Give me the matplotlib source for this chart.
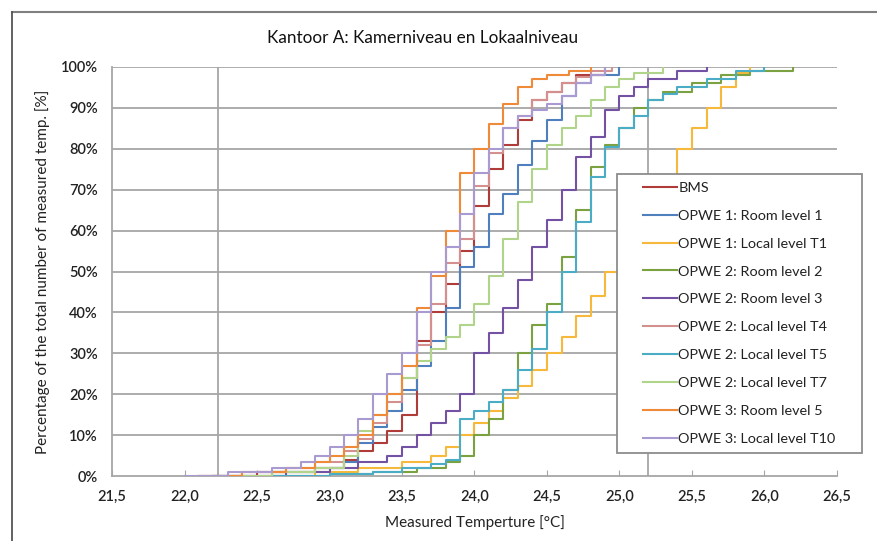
import matplotlib
matplotlib.use("Agg")
import matplotlib.pyplot as plt
import numpy as np
from matplotlib.lines import Line2D
from matplotlib.legend_handler import HandlerLine2D

plt.rcParams['font.family'] = ['Lato', 'DejaVu Sans']

# cumulative distributions (temperature in degC, percentage)
bms_t = [22.1, 22.5, 22.9, 23.1, 23.2, 23.3, 23.4, 23.5, 23.6, 23.7, 23.8, 23.9, 24.0, 24.1, 24.2, 24.3, 24.4, 24.5, 24.6, 24.7, 24.9]
bms_p = [0, 1, 2, 4, 6, 8, 11, 15, 33, 40, 47, 55, 66, 75, 81, 87, 92, 94, 96, 98, 100]

r1_t = [22.2, 22.6, 22.9, 23.1, 23.2, 23.3, 23.4, 23.5, 23.6, 23.7, 23.8, 23.9, 24.0, 24.1, 24.2, 24.3, 24.4, 24.5, 24.6, 24.7, 24.8, 25.0]
r1_p = [0, 1, 2, 3.5, 8, 12, 16, 21, 27, 33, 41, 51, 56, 64, 69, 76, 82, 87, 93, 96, 98, 100]

t1_t = [22.5, 22.9, 23.2, 23.5, 23.7, 23.8, 23.9, 24.0, 24.1, 24.2, 24.3, 24.4, 24.5, 24.6, 24.7, 24.8, 24.9, 25.0, 25.1, 25.2, 25.3, 25.4, 25.5, 25.6, 25.7, 25.8, 25.9]
t1_p = [0, 1, 2, 3.5, 5, 7, 10, 13, 16, 19, 22, 26, 30, 34, 39, 44, 50, 55, 61, 67, 73, 80, 85, 90, 95, 98.5, 100]

r2_t = [22.6, 23.0, 23.3, 23.6, 23.8, 23.9, 24.0, 24.1, 24.2, 24.3, 24.4, 24.5, 24.6, 24.7, 24.8, 24.9, 25.0, 25.1, 25.2, 25.3, 25.5, 25.7, 25.9, 26.2]
r2_p = [0, 0.5, 1, 2, 3.5, 5, 10, 14, 21, 30, 37, 42, 53.5, 65, 75.5, 81, 85, 90, 92, 94, 96, 98, 99, 100]

r3_t = [22.2, 22.7, 23.0, 23.2, 23.4, 23.5, 23.6, 23.7, 23.8, 23.9, 24.0, 24.1, 24.2, 24.3, 24.4, 24.5, 24.6, 24.7, 24.8, 24.9, 25.0, 25.1, 25.2, 25.4, 25.6]
r3_p = [0, 1, 2, 3.5, 5, 7, 10, 13, 16, 20, 30, 35, 41, 48, 56, 62.5, 70, 78, 83, 89.5, 93, 95, 97, 99, 100]

t4_t = [22.1, 22.4, 22.7, 22.9, 23.1, 23.2, 23.3, 23.4, 23.5, 23.6, 23.7, 23.8, 23.9, 24.0, 24.1, 24.2, 24.3, 24.4, 24.5, 24.6, 24.7, 24.8, 24.95]
t4_p = [0, 1, 2, 3.5, 6, 9, 13, 18, 24, 32, 42, 52, 58, 71, 79, 85, 88, 92, 94, 96, 97.6, 99, 100]

t5_t = [22.6, 23.0, 23.3, 23.5, 23.7, 23.8, 23.9, 24.0, 24.1, 24.2, 24.3, 24.4, 24.5, 24.6, 24.7, 24.8, 24.9, 25.0, 25.1, 25.2, 25.3, 25.4, 25.6, 25.8, 26.0]
t5_p = [0, 0.5, 1, 2, 3, 4, 14, 16, 18, 21, 26, 31, 40, 50, 62, 73, 80.5, 85, 88, 92, 93.5, 95, 97, 99, 100]

t7_t = [22.2, 22.6, 22.9, 23.1, 23.2, 23.3, 23.4, 23.5, 23.6, 23.7, 23.8, 23.9, 24.0, 24.1, 24.2, 24.3, 24.4, 24.5, 24.6, 24.7, 24.8, 24.9, 25.0, 25.1, 25.3]
t7_p = [0, 1, 2, 5, 11, 15, 20, 24, 28, 31, 34, 37, 42, 49, 58, 67, 75, 81, 85, 88, 92, 95, 97, 98.5, 100]

r5_t = [22.1, 22.4, 22.7, 22.9, 23.0, 23.1, 23.2, 23.3, 23.4, 23.5, 23.6, 23.7, 23.8, 23.9, 24.0, 24.1, 24.2, 24.3, 24.4, 24.5, 24.65, 24.8]
r5_p = [0, 1, 2, 3.5, 5, 7, 10, 15, 20, 27, 41, 49, 60, 74, 80, 86, 91, 95, 97, 98, 99, 100]

t10_t = [22.0, 22.3, 22.6, 22.8, 22.9, 23.0, 23.1, 23.2, 23.3, 23.4, 23.5, 23.6, 23.7, 23.8, 23.9, 24.0, 24.1, 24.2, 24.3, 24.4, 24.5, 24.6, 24.7, 24.8, 24.9]
t10_p = [0, 1, 2, 3.5, 5, 7, 10, 14, 20, 25, 30, 40, 50, 56, 64, 74, 80, 85, 88, 89.5, 91, 93, 96, 98, 100]

labels = ["BMS", "OPWE 1: Room level 1", "OPWE 1: Local level T1", "OPWE 2: Room level 2",
          "OPWE 2: Room level 3", "OPWE 2: Local level T4", "OPWE 2: Local level T5",
          "OPWE 2: Local level T7", "OPWE 3: Room level 5", "OPWE 3: Local level T10"]
series = [(bms_t, bms_p), (r1_t, r1_p), (t1_t, t1_p), (r2_t, r2_p), (r3_t, r3_p),
          (t4_t, t4_p), (t5_t, t5_p), (t7_t, t7_p), (r5_t, r5_p), (t10_t, t10_p)]
colors = ["#B03C3A", "#4F7FBD", "#F6B93B", "#7AA241", "#7452A3",
          "#D4908E", "#4BACC6", "#AFD48A", "#EE8A38", "#A99AD2"]

# comfort limits (vertical lines)
limits = [22.23, 25.2]

xticks = [21.5, 22.0, 22.5, 23.0, 23.5, 24.0, 24.5, 25.0, 25.5, 26.0, 26.5]
yticks = list(range(0, 101, 10))


class ShortHandle(HandlerLine2D):
    # legend line only on the right part of the handle box
    def create_artists(self, legend, orig_handle, xdescent, ydescent, width, height, fontsize, trans):
        arts = super().create_artists(legend, orig_handle, xdescent, ydescent, width, height, fontsize, trans)
        for a in arts:
            xd = np.asarray(a.get_xdata(), dtype=float)
            if len(xd) >= 2:
                x0, x1 = xd.min(), xd.max()
                a.set_xdata(np.linspace(x0 + 0.35 * (x1 - x0), x1, len(xd)))
        return arts


fig = plt.figure(figsize=(8.78, 5.41), dpi=100)
ax = fig.add_axes([112 / 878, 1 - 476 / 541, 725 / 878, 409 / 541])

grid_c = "#A6A6A6"
for y in yticks[1:]:
    ax.axhline(y, color=grid_c, lw=1.3, zorder=1)
for x in limits:
    ax.axvline(x, color=grid_c, lw=1.3, zorder=1)

handles = []
for (t, p), lab, c in zip(series, labels, colors):
    h, = ax.plot(t, p, drawstyle="steps-post", color=c, lw=1.5, label=lab, zorder=3)
    handles.append(h)

ax.set_xlim(21.5, 26.5)
ax.set_ylim(0, 100)
ax.set_xticks(xticks)
ax.set_xticklabels([f"{v:.1f}".replace(".", ",") for v in xticks])
ax.set_yticks(yticks)
ax.set_yticklabels([f"{v}%" for v in yticks])
ax.tick_params(axis="x", direction="in", length=4, color=grid_c, pad=10, labelsize=10.5, labelcolor="#222222")
ax.tick_params(axis="y", length=0, pad=10, labelsize=10.5, labelcolor="#222222")
for lab in ax.get_xticklabels() + ax.get_yticklabels():
    lab.set_fontweight("semibold")

for s in ["top", "right"]:
    ax.spines[s].set_visible(False)
for s in ["left", "bottom"]:
    ax.spines[s].set_color(grid_c)
    ax.spines[s].set_linewidth(1.3)

ax.set_xlabel("Measured Temperture [°C]", fontsize=11, color="#222222", labelpad=8)
ax.set_ylabel("Percentage of the total number of measured temp. [%]", fontsize=11, color="#222222", labelpad=8)

fig.text(423 / 878, 1 - 38 / 541, "Kantoor A: Kamerniveau en Lokaalniveau", ha="center", va="center",
         fontsize=12.3, color="#111111")

leg = ax.legend(handles=handles, loc="upper left",
                bbox_to_anchor=((617 - 112) / 725, (476 - 178) / 409, 245 / 725, 0.01),
                mode="expand", borderaxespad=0, fontsize=10.4, frameon=True, fancybox=False,
                edgecolor="#8C8C8C", framealpha=1, labelspacing=1.09, handlelength=3.6,
                handletextpad=0.1, borderpad=0.55,
                handler_map={Line2D: ShortHandle()})
leg.get_frame().set_linewidth(1.3)
for t in leg.get_texts():
    t.set_color("#222222")

# outer chart border (cut off at right and bottom)
fig.add_artist(Line2D([12 / 878, 1], [1 - 12 / 541, 1 - 12 / 541], color="#808080", lw=1.5))
fig.add_artist(Line2D([12 / 878, 12 / 878], [0, 1 - 12 / 541], color="#555555", lw=1.3))

fig.savefig("out.png", dpi=100)
